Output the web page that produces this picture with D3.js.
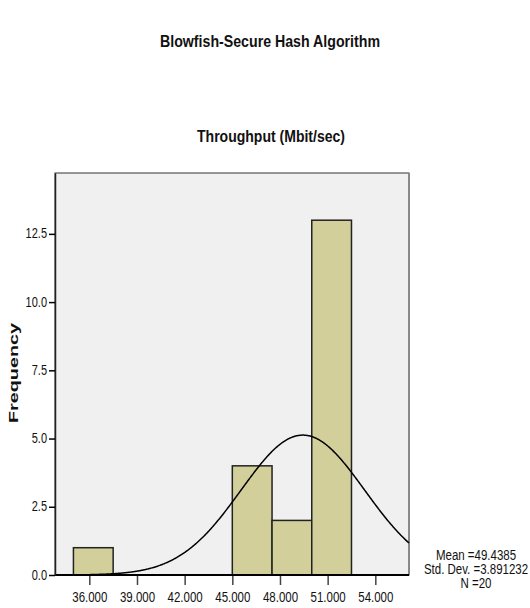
<!DOCTYPE html>
<html>
<head>
<meta charset="utf-8">
<script src="https://cdnjs.cloudflare.com/ajax/libs/d3/7.8.5/d3.min.js"></script>
<style>
  body { margin: 0; background: #fff; }
  svg { display: block; }
  text { font-family: "Liberation Sans Narrow", "Arial Narrow", "Liberation Sans", Arial, sans-serif; fill: #111; }
</style>
</head>
<body>
<svg id="canvas" width="530" height="608"></svg>
<script>
// histogram data
let binStarts = [35, 45, 47.5, 50]
let counts = [1, 4, 2, 13]
let binWidth = 2.5
let xTicks = [36, 39, 42, 45, 48, 51, 54]
let yTicks = [0, 2.5, 5, 7.5, 10, 12.5]
let statsLabels = ['Mean =49.4385', 'Std. Dev. =3.891232', 'N =20']
let mean = 49.4385
let sd = 3.891232
let n = 20

let canvas = d3.select('#canvas')

let xScale = d3.scaleLinear().domain([33.84, 56.12]).range([55, 409])
let yScale = d3.scaleLinear().domain([0, 14.73]).range([575, 173])

// plot background
canvas.append('rect')
    .attr('x', 55).attr('y', 173)
    .attr('width', 409 - 55).attr('height', 575 - 173)
    .attr('fill', '#f0f0f0')
    .attr('stroke', '#333')
    .attr('stroke-width', 1)
canvas.append('line')
    .attr('x1', 409).attr('x2', 409).attr('y1', 173).attr('y2', 575)
    .attr('stroke', '#888').attr('stroke-width', 2)

// bars
canvas.selectAll('.bar')
    .data(binStarts)
    .enter()
    .append('rect')
    .attr('class', 'bar')
    .attr('x', (d) => xScale(d))
    .attr('y', (d, i) => yScale(counts[i]))
    .attr('width', (d) => xScale(d + binWidth) - xScale(d))
    .attr('height', (d, i) => yScale(0) - yScale(counts[i]))
    .attr('fill', '#d3cf9b')
    .attr('stroke', '#222')
    .attr('stroke-width', 1.5)

// normal curve from the stats
let curveX = d3.range(33.84, 56.12, 0.05).concat([56.12])
let line = d3.line()
    .x((d) => xScale(d))
    .y((d) => yScale(n * binWidth / (sd * Math.sqrt(2 * Math.PI)) * Math.exp(-0.5 * Math.pow((d - mean) / sd, 2))))
canvas.append('path')
    .datum(curveX)
    .attr('d', line)
    .attr('fill', 'none')
    .attr('stroke', '#000')
    .attr('stroke-width', 1.5)

// axes
let xAxis = d3.axisBottom(xScale).tickValues(xTicks).tickFormat(d3.format('.3f')).tickSize(10).tickSizeOuter(0)
let gx = canvas.append('g').attr('transform', 'translate(0,575)').call(xAxis)
gx.select('.domain').remove()
gx.selectAll('line').attr('stroke', '#444').attr('stroke-width', 1.5)
gx.selectAll('text').attr('font-size', 11.5).attr('dy', null).attr('y', 0)
    .attr('transform', 'translate(0,27) scale(1,1.25)')
canvas.append('line')
    .attr('x1', 55).attr('x2', 409).attr('y1', 575).attr('y2', 575)
    .attr('stroke', '#000').attr('stroke-width', 2)

let yAxis = d3.axisLeft(yScale).tickValues(yTicks).tickFormat(d3.format('.1f')).tickSize(6).tickSizeOuter(0)
let gy = canvas.append('g').attr('transform', 'translate(55,0)').call(yAxis)
gy.select('.domain').attr('stroke', '#222').attr('stroke-width', 1.5)
gy.selectAll('line').attr('stroke', '#000').attr('stroke-width', 1.5)
gy.selectAll('text').attr('font-size', 11).attr('dy', null).attr('x', 0).attr('y', 0)
    .attr('transform', 'translate(-8,4) scale(1,1.25)')
gy.attr('font-family', null)
gx.attr('font-family', null)

// titles
canvas.append('text')
    .attr('x', 270).attr('y', 47)
    .attr('text-anchor', 'middle')
    .attr('font-weight', 'bold')
    .attr('font-size', 17)
    .attr('textLength', 220).attr('lengthAdjust', 'spacingAndGlyphs')
    .text('Blowfish-Secure Hash Algorithm')
canvas.append('text')
    .attr('x', 271).attr('y', 142)
    .attr('text-anchor', 'middle')
    .attr('font-weight', 'bold')
    .attr('font-size', 17)
    .attr('textLength', 148).attr('lengthAdjust', 'spacingAndGlyphs')
    .text('Throughput (Mbit/sec)')
canvas.append('text')
    .attr('transform', 'translate(18,373) rotate(-90)')
    .attr('text-anchor', 'middle')
    .attr('font-weight', 'bold')
    .attr('font-size', 13)
    .style('font-family', '"Liberation Sans", Arial, sans-serif')
    .attr('textLength', 100).attr('lengthAdjust', 'spacingAndGlyphs')
    .text('Frequency')

// stats box
canvas.selectAll('.stat')
    .data(statsLabels)
    .enter()
    .append('text')
    .attr('class', 'stat')
    .attr('text-anchor', 'middle')
    .attr('font-size', 11.5)
    .attr('transform', (d, i) => 'translate(476,' + (560 + i * 14) + ') scale(1,1.2)')
    .text((d) => d)
</script>
</body>
</html>
